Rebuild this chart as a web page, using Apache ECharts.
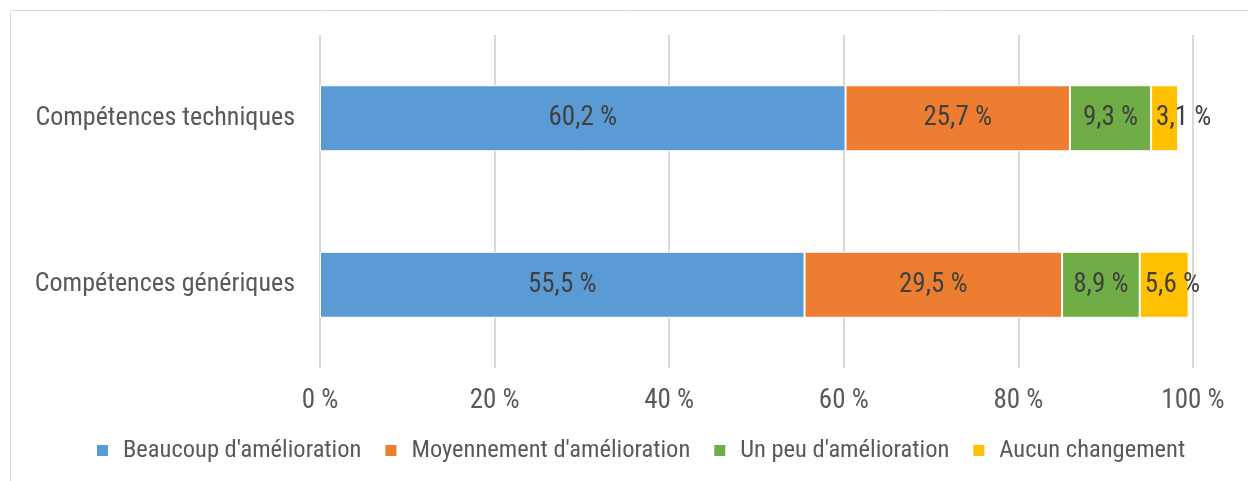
<!DOCTYPE html>
<html>
<head>
<meta charset="utf-8">
<script src="https://cdn.jsdelivr.net/npm/echarts@6/dist/echarts.min.js"></script>
<style>
    html, body { margin: 0; padding: 0; background: #fff; }
    #main { width: 1248px; height: 481px; }
</style>
</head>
<body>
<div id="main"></div>
<script>
// données
var categories = ['Compétences génériques', 'Compétences techniques'];
var beaucoup = [55.5, 60.2];
var moyennement = [29.5, 25.7];
var unPeu = [8.9, 9.3];
var aucun = [5.6, 3.1];
var seriesNames = ["Beaucoup d'amélioration", "Moyennement d'amélioration", "Un peu d'amélioration", "Aucun changement"];
var colors = ['#5B9BD5', '#ED7D31', '#70AD47', '#FFC000'];

var font = '"Liberation Sans Narrow", "Arial Narrow", "Roboto Condensed", sans-serif';

function fmt(p) {
    return String(p.value.toFixed(1)).replace('.', ',') + ' %';
}

function makeSeries(name, data, color, pos) {
    return {
        name: name,
        type: 'bar',
        stack: 'total',
        barWidth: 66,
        data: data,
        itemStyle: { color: color, borderColor: '#fff', borderWidth: 1 },
        label: {
            show: true,
            position: pos || 'inside',
            distance: 5,
            formatter: fmt,
            color: '#404040',
            fontFamily: font,
            fontSize: 27
        }
    };
}

var myChart = echarts.init(document.getElementById('main'));
var option = {
    animation: false,
    color: colors,
    graphic: [{
        type: 'rect',
        shape: { x: 10.5, y: 10.5, width: 1250, height: 480 },
        style: { fill: 'none', stroke: '#d9d9d9', lineWidth: 1 }
    }],
    grid: { left: 320, right: 55, top: 35, bottom: 113 },
    legend: {
        bottom: 13,
        left: 90,
        itemWidth: 13,
        itemHeight: 13,
        itemGap: 22,
        icon: 'rect',
        textStyle: { color: '#595959', fontFamily: font, fontSize: 24.5, padding: [0, 0, 0, 9] },
        data: seriesNames
    },
    xAxis: {
        type: 'value',
        min: 0,
        max: 100,
        interval: 20,
        axisLine: { show: false },
        axisTick: { show: false },
        splitLine: { lineStyle: { color: '#d9d9d9', width: 2 } },
        axisLabel: {
            formatter: '{value} %',
            color: '#595959',
            fontFamily: font,
            fontSize: 27,
            margin: 20
        }
    },
    yAxis: {
        type: 'category',
        data: categories,
        axisLine: { show: false },
        axisTick: { show: false },
        axisLabel: {
            color: '#595959',
            fontFamily: font,
            fontSize: 26,
            margin: 25
        }
    },
    series: [
        makeSeries(seriesNames[0], beaucoup, colors[0]),
        makeSeries(seriesNames[1], moyennement, colors[1]),
        makeSeries(seriesNames[2], unPeu, colors[2]),
        makeSeries(seriesNames[3], aucun, colors[3], 'insideLeft')
    ]
};
myChart.setOption(option);
</script>
</body>
</html>
